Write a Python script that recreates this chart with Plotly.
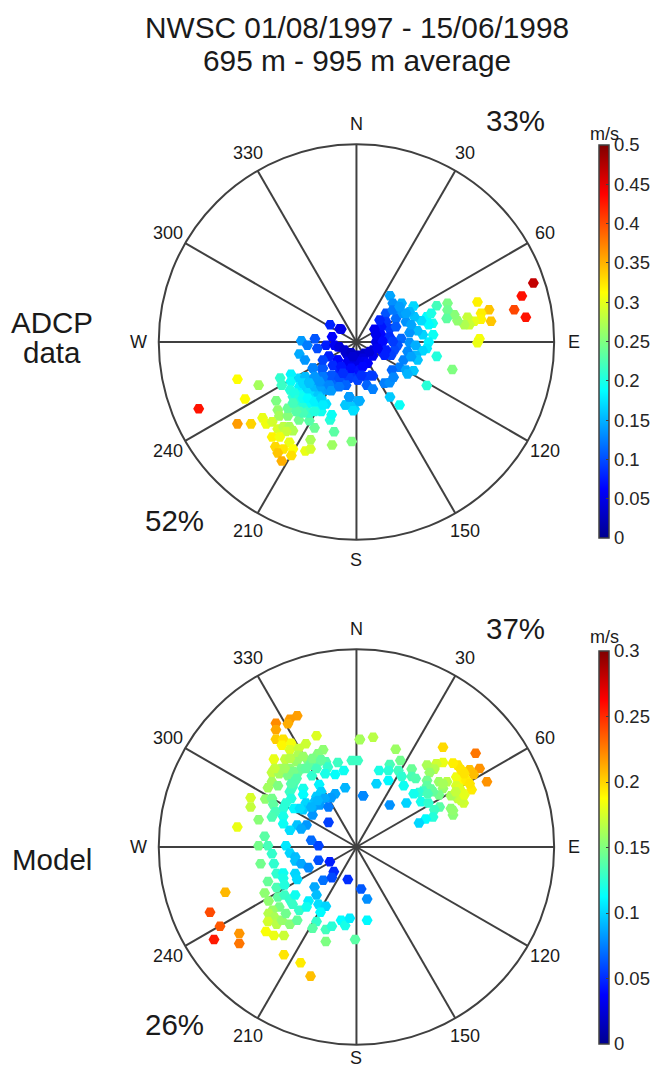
import numpy as np
import plotly.graph_objects as go

# Velocity components (cm/s)
adcp_east = [-39.5,-29.8,-24.5,-27.9,-29.8,-26.4,-23.5,-22.6,-21.1,-20.1,-19.7,-19.3,-17.2,-17.2,-19.7,-18.3,-16.8,-15.9,-17.6,-21.1,-19.2,-16.8,-20.3,-18.3,-15.9,-19.7,-16.3,-18.7,-12.8,-11.5,-11.5,-10.5,-6.1,-1.2,-5.6,-6.6,-6.2,-11.8,-14.4,
 -19.1,-18.7,-16.4,-16.4,-16.6,-14.3,-12.8,-14.3,-15.9,-13.8,-12.6,-15.1,-13,-14.3,-12.2,-10.9,-10.1,-8.8,-7.6,-11.3,-9.7,-11.8,
 -15.5,-14.7,-13.4,-12.2,-10.5,-8.8,-8.4,-11.8,-10.5,-13.4,-15.1,-15.9,-13.4,-11.8,-10.5,-8.8,-7.6,-5.9,-10.5,-5.1,-3.4,-8.8,
 -10.9,-8.7,-8.8,-7.6,-6.3,-6.8,-4.7,-1.8,-2.6,-0.5,0.3,-14.3,-12.9,-13.8,-12.3,-10.4,-9.8,-7.6,-6.1,-6.6,-4.2,-4.7,-2.6,-7,-4.7,-5.9,-3.4,-1.8,-0.1,-4.3,-2.6,-0.9,
 44.3,41.4,39.5,42.4,33.2,33.7,30.3,31.2,31.2,29.5,28.3,27.8,27,25.3,24.5,22.8,22.8,22.6,20.1,30.8,30.3,24,20.1,17.6,10.8,8.4,0.8,-1.8,-2.8,-0.9,-0.8,
 19.2,18.1,17.6,16.6,19.1,18.1,17.6,18.7,16.2,16.6,15.3,13.3,12.4,14.5,14.3,13.3,11.3,10.3,8.4,9.1,7.4,9.9,7.4,8.3,6.2,4.5,6.2,8.3,4.9,11.2,10.3,13.3,14.8,9.5,8.7,6.2,12.8,14.9,15.3,11.8,13.7,10.8,8.9,12.4,14.3,12.8,
 9.1,11.6,13.7,9.9,5.8,4.9,6.6,9.1,7.4,7,12.4,10.8,
 4.1,4.1,2,2,0.5,4.1,2.4,0.3,-1.3,2.6,4.1,7,8.3,9.3,-3.8,-3.8,
 -5.5,-4.3,-3,-1.3,0.3,1.6,3.3,5.3,-6.9,-4.7,-2.2,0.3,2,-5.9,-3.8,-1.3,0.8,-8.4,-6.3,-4.3,-1.8,0.3,3.7,-8.4,-9.3,-6.8,-6.3,-10.9,-1.8,0.6,2.8,
 -3.4,-0.9,1.6,-8.4,-10.5,-11.8,-2.6,-4.3,1.2]
adcp_north = [-16.7,-9.3,-10.8,-14.3,-20.5,-20.5,-19,-20.5,-20,-14.7,-17,-18.5,-18.5,-16.6,-21.8,-21.2,-21.2,-22.2,-22.4,-23.8,-23.8,-25.1,-26.2,-26.8,-26.8,-27.8,-28.4,-29.8,-27.3,-26.8,-24.5,-21.5,-25.8,-24.9,-22.5,-19.5,-18.2,-19.7,-19.5,
 -9,-10.8,-8.1,-9.9,-12,-9.1,-8.7,-11.2,-13.7,-13.3,-11.2,-15.8,-15.8,-17.4,-17.4,-13.7,-15.8,-17.4,-15.5,-15.3,-12.8,-12.4,
 -12.8,-14.5,-14.1,-14.1,-14.9,-14.1,-15.8,-17.8,-17.4,-17.8,-17.4,-15.3,-10.3,-9.9,-11.2,-11.2,-12,-11.2,-9.5,-9.1,-9.9,-8.7,
 -6.5,-6.7,-9.9,-8.7,-8.7,-12,-10.3,-13.7,-15.8,-16.8,-14.9,-3,-4.5,0.3,-0.8,0.8,-1.6,-0.8,1.3,4.3,3.3,-1.2,-2.8,-3.7,-4.5,-8.3,-7.4,-5.8,-4.5,-6.6,-8.7,-8.3,
 14.8,11.5,8.1,6.2,8.1,5.2,10,7.2,5.7,5.2,4.3,6.2,4.3,5.3,6.8,9.7,8,5.9,9.1,0.8,-0.2,-6.9,-3.6,-10.9,-15.8,-13.8,-14.7,-13.8,-15.8,-16.2,-17.2,
 1.8,0,-1.6,-2.2,4.7,4.3,6.3,7.2,5.3,1.8,2.8,2.3,5.1,6.3,9,7.6,9.7,7.6,11.6,9.7,7.2,5.9,5.1,3.4,3.8,3.2,1.8,1.3,0,0.9,-0.8,-0.2,-0.8,-2,-3.3,-2,-2.4,-3.3,-4.5,-4.5,-3.7,-6.3,-7,-7,-7.2,-8,
 8,7.2,4.3,3.8,5.5,1.8,0.1,0.1,-2,-3.3,7.2,8.8,
 -2,-3.5,-2.8,-4.9,-6.8,-8.5,-8.7,-9.5,-8.7,-10.8,-11.8,-10.3,-10.2,-8.8,3.2,-10.3,
 -0.8,-1.2,-2,-2.7,-3.3,-4.1,-2.4,-1.6,-3.5,-4.5,-4.9,-4.9,-4.9,-5.8,-6.2,-6.6,-7,-6.6,-8.3,-9.1,-9.1,-9.5,-8.3,-8.7,-9.9,-10.8,-12.2,-6.6,-13.8,-14.7,-5.3,
 -7.8,-3.7,-6.2,-4.5,-8.7,-10.3,-10.8,-11.2,-8.3]

model_east = [-8.9,-10,-10.3,-12.1,-12.1,-12.1,-11,-11.2,-9.8,-10,-7.6,-6,0.5,-12.4,-8.7,-5,-5.8,-8.8,-10.7,-9,-7.3,-5.7,-4.6,-2.8,-0.7,0.2,-11.3,-12.7,-10,-8.3,-7,-4.3,-1.9,-3.2,-4.7,-6.7,-11.6,-10.3,-8.8,-9.3,-12.7,-11.8,-13.3,-9.6,-8,-5.6,-5.3,-1.7,-10,-8,-9.8,1,-3.2,-3.8,-6,-4.8,-15.9,-15.9,-13.7,-12.7,-12.5,-10.6,-6.3,-7.6,-9.4,-11,-12.2,-8,-6.6,-5.5,-4.2,-6.6,-12.7,-11,-14.7,-17.9,-11,-8.9,-7.5,-8.3,-10,-4.2,-13.8,-6.8,-5.7,-14.7,-13.3,-10.6,
 -10,-8,-6.6,-9.5,-10.8,-7.6,-6,-12.3,-9,-9.8,-5.3,-5.8,-6.8,-8.5,
 -19.7,-22,-20.5,-21.4,-17.6,-17.6,-14.4,-12.7,-12.4,-12,-11,-11,-13.3,-12,-10.8,-9.2,-8.9,-10,-9.2,-9.2,-8.3,-7.2,-5.7,-4,-3.4,-5,-3.7,-1.3,0.7,1.6,-6.3,-6,-13.8,-13.2,-11.8,-10.8,-10,-9.2,-9.6,-8.6,-7.2,-7.5,-5.7,-4.6,-5.4,-11.6,-12.6,-13.2,-12.3,-13.3,-12,-11.2,-10.6,-10,-8.9,-6,-6.6,-4.6,-3.7,-2.3,-1.7,-1,1.6,-0.2,-4.6,-13.6,-12.4,-10.9,-10.9,-8.4,-6.9,
 0.5,2.5,5.9,13,17.9,18.5,19.6,17.3,16.1,17,17.6,16,15.2,14.5,13,12,10.6,11.7,11,6.6,5,3.4,4.8,6.3,8.3,6.8,8.3,8.9,4.8,3,7.1,10.6,10.6,12.4,13.6,13,15,16.1,15,16,15.2,14.2,11.2,10,9.4,8.6,12.4,9.7,10.8,12.5,11.7,11.5,10.4,9.4,7.5,5,1,14.2,14.5,15.7,16.5,15.7,
 16.2,15.5,16.2,14.9,17,14.5,13,11.5,10.7]
model_north = [19.7,19.2,18.5,18.6,17.6,16.2,16.2,15.3,15.6,14.6,15.5,16.7,16.2,13.2,14.8,14.6,14,13.8,13.2,12.8,13,12.8,12.8,12.7,13,13,11.8,11.2,11.8,11.8,12.3,12,11.5,10.9,11,10.7,11,10.7,11.2,9.8,9.8,9.2,8.9,9,8.8,9.4,8.3,8.9,8.3,7.9,7.3,7.7,8,7.4,7.6,7.3,7.4,6,7.2,7.3,6.4,6.6,6.8,6.6,5.8,5.8,5.3,5.6,5.8,6.3,6,4.8,4.5,4.6,4.1,3,3.5,3.3,3.3,2.7,2.5,3.7,1.6,1,0.2,0.2,0.2,0.2,
 13.3,13.6,13.3,11.3,11.8,11.8,11.8,11.8,10.3,9.5,13.1,7,6,5.8,
 -6.8,-9.8,-11.9,-13.9,-13,-14.5,-2.5,-1,-2.5,-4,-3.9,-4.7,-5.2,-6.1,-5.7,-4,-4.9,-0.9,-1.5,-2.1,-2.5,-3.1,-2,-2.2,-3.7,-5,-4.6,-4.9,-6.3,-7.8,-6,-7.2,-6.9,-8.1,-7.5,-7.2,-7.9,-7.2,-8.6,-9.5,-8.1,-9,-8.6,-8.9,-9.8,-9,-9.5,-10,-10.6,-11.2,-11.6,-11,-10,-11.6,-11,-11.2,-12.2,-12.4,-11.9,-11,-11.8,-10.7,-11,-13.9,-14.2,-12.7,-13.3,-13.3,-16.2,-17.4,-19.4,
 16.1,16.5,14.7,15,14.1,11.8,9.8,8.6,6.6,11.6,10.9,11.3,12.3,12.6,12.7,12.5,12.3,11.7,11.2,13,12.4,11.5,11.5,11.5,11.7,10.6,10.6,10.3,10,9.5,9.2,10,9.2,9.8,9.8,8.8,10.5,9.9,9.2,8,7.3,7.7,8.7,8.4,8.2,8,7.8,6.8,6.6,6,5.6,4.5,4.2,3.6,6.6,6.3,7.7,5.8,4.8,7,10,11.6,
 11,8.8,7.8,8.3,9.5,5.5,9.5,8.3,8]

title_lines = ["NWSC 01/08/1997 - 15/06/1998", "695 m - 995 m average"]
dir_ticks = [0, 30, 60, 90, 120, 150, 180, 210, 240, 270, 300, 330]
dir_labels = ["N", "30", "60", "E", "120", "150", "S", "210", "240", "W", "300", "330"]
adcp_ticks = [0, 0.05, 0.1, 0.15, 0.2, 0.25, 0.3, 0.35, 0.4, 0.45, 0.5]
adcp_ticklabels = ["0", "0.05", "0.1", "0.15", "0.2", "0.25", "0.3", "0.35", "0.4", "0.45", "0.5"]
model_ticks = [0, 0.05, 0.1, 0.15, 0.2, 0.25, 0.3]
model_ticklabels = ["0", "0.05", "0.1", "0.15", "0.2", "0.25", "0.3"]

FONT = "Liberation Sans, Arial, sans-serif"
W, H = 653, 1070
DARK = "#404040"
TXT = "#1a1a1a"
JET = [[0, "rgb(0,0,143)"], [0.125, "rgb(0,0,255)"], [0.375, "rgb(0,255,255)"],
       [0.625, "rgb(255,255,0)"], [0.875, "rgb(255,0,0)"], [1, "rgb(128,0,0)"]]


def fx(px):
    return px / W


def fy(py):
    return 1 - py / H


def polar_components(east, north):
    e, n = np.array(east) / 100, np.array(north) / 100
    return np.hypot(e, n), np.degrees(np.arctan2(e, n)) % 360


def trace(east, north, sub, cmax, ticks, labels, top_px):
    r, th = polar_components(east, north)
    return go.Scatterpolar(
        r=r, theta=th, subplot=sub, mode="markers", showlegend=False,
        marker=dict(symbol="hexagon2", size=11, color=r, cmin=0, cmax=cmax, colorscale=JET,
                    line=dict(width=0),
                    colorbar=dict(x=fx(599), xanchor="left", xpad=0, y=fy(top_px), yanchor="top", ypad=0,
                                  len=393 / H, thickness=10, outlinecolor=DARK, outlinewidth=1.5,
                                  tickmode="array", tickvals=ticks, ticktext=labels,
                                  ticks="inside", ticklen=3, tickcolor=DARK,
                                  tickfont=dict(family=FONT, size=18.5, color="#262626"))),
    )


def polar_layout(cy, rmax):
    return dict(
        domain=dict(x=[fx(357 - 198), fx(357 + 198)], y=[fy(cy + 198), fy(cy - 198)]),
        bgcolor="white",
        radialaxis=dict(visible=False, range=[0, rmax]),
        angularaxis=dict(direction="clockwise", rotation=90, tickmode="array", tickvals=dir_ticks,
                         ticktext=dir_labels, ticks="", showticklabels=False, showgrid=True,
                         gridcolor=DARK, gridwidth=2, showline=True, linecolor=DARK, linewidth=2),
    )


def note(text, x, y, size=29.5):
    return dict(text=text, x=fx(x), y=fy(y), xref="paper", yref="paper", showarrow=False,
                xanchor="center", yanchor="middle", font=dict(family=FONT, size=size, color=TXT))


def direction_notes(cy):
    out = []
    for deg, lab in zip(dir_ticks, dir_labels):
        a = np.radians(deg)
        y = min(cy - 218 * np.cos(a), 1058)
        out.append(note(lab, 357 + 218 * np.sin(a), y, 18))
    return out


fig = go.Figure()
fig.add_trace(trace(adcp_east, adcp_north, "polar", 0.5, adcp_ticks, adcp_ticklabels, 145))
fig.add_trace(trace(model_east, model_north, "polar2", 0.3, model_ticks, model_ticklabels, 651))

fig.update_layout(
    width=W, height=H, margin=dict(l=0, r=0, t=0, b=0), autosize=False,
    paper_bgcolor="white", plot_bgcolor="white",
    polar=polar_layout(342, 0.495), polar2=polar_layout(847, 0.297),
    annotations=[note(title_lines[0], 358, 28, 29.8), note(title_lines[1], 358, 60, 29.8),
                 note("33%", 516, 120), note("52%", 175, 520), note("37%", 516, 628), note("26%", 175, 1024),
                 note("ADCP", 52, 322), note("data", 52, 353), note("Model", 52, 859),
                 note("m/s", 605, 134, 18), note("m/s", 605, 637, 18)]
                + direction_notes(342) + direction_notes(847),
)
fig.write_html("out.html", config={"displayModeBar": False}, post_script="document.body.style.margin='0';")
